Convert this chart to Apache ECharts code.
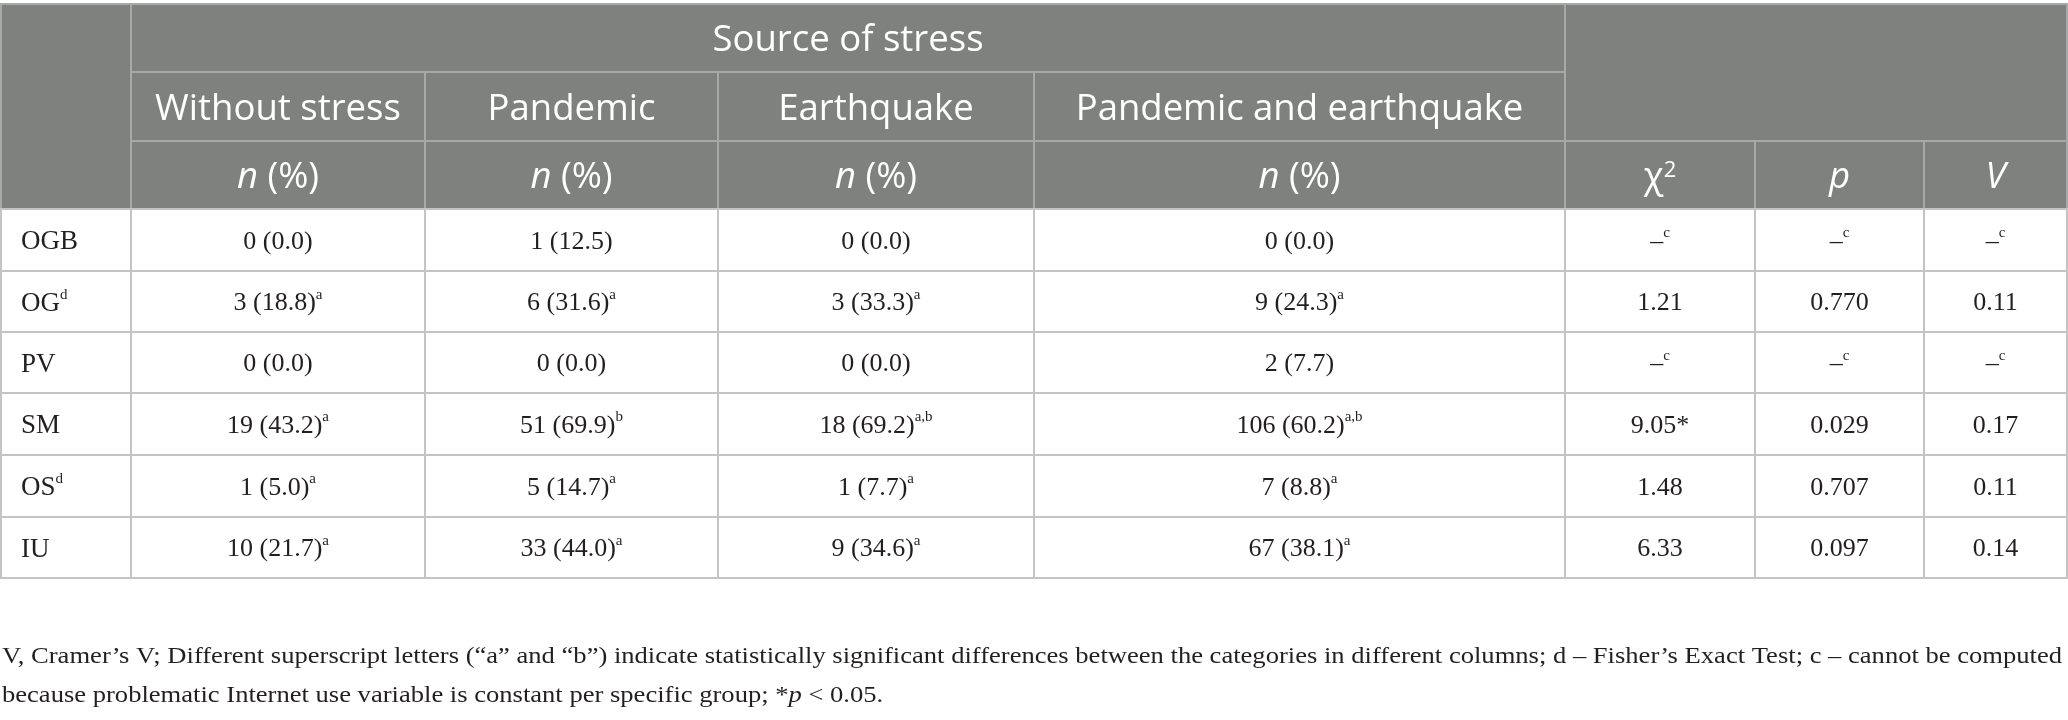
<!DOCTYPE html>
<html><head><meta charset="utf-8">
<script src="https://cdn.jsdelivr.net/npm/echarts@6/dist/echarts.min.js"></script>
<style>html,body{margin:0;padding:0;background:#fff}#c{width:2068px;height:720px}</style>
</head><body><div id="c"></div>
<script>
// ---------- data ----------
const rowLabels = ['OGB', 'OG', 'PV', 'SM', 'OS', 'IU'];
const rowLabelSup = ['', 'd', '', '', 'd', ''];
const groupTitle = 'Source of stress';
const stressGroups = ['Without stress', 'Pandemic', 'Earthquake', 'Pandemic and earthquake'];
const withoutStress = ['0 (0.0)', '3 (18.8)', '0 (0.0)', '19 (43.2)', '1 (5.0)', '10 (21.7)'];
const withoutStressSup = ['', 'a', '', 'a', 'a', 'a'];
const pandemic = ['1 (12.5)', '6 (31.6)', '0 (0.0)', '51 (69.9)', '5 (14.7)', '33 (44.0)'];
const pandemicSup = ['', 'a', '', 'b', 'a', 'a'];
const earthquake = ['0 (0.0)', '3 (33.3)', '0 (0.0)', '18 (69.2)', '1 (7.7)', '9 (34.6)'];
const earthquakeSup = ['', 'a', '', 'a,b', 'a', 'a'];
const pandemicAndEarthquake = ['0 (0.0)', '9 (24.3)', '2 (7.7)', '106 (60.2)', '7 (8.8)', '67 (38.1)'];
const pandemicAndEarthquakeSup = ['', 'a', '', 'a,b', 'a', 'a'];
const chiSquare = ['–', '1.21', '–', '9.05*', '1.48', '6.33'];
const chiSquareSup = ['c', '', 'c', '', '', ''];
const pValues = ['–', '0.770', '–', '0.029', '0.707', '0.097'];
const pValuesSup = ['c', '', 'c', '', '', ''];
const cramersV = ['–', '0.11', '–', '0.17', '0.11', '0.14'];
const cramersVSup = ['c', '', 'c', '', '', ''];
const footnoteLine1 = 'V, Cramer’s V; Different superscript letters (“a” and “b”) indicate statistically significant differences between the categories in different columns; d – Fisher’s Exact Test; c – cannot be computed';
const footnoteLine2 = 'because problematic Internet use variable is constant per specific group; *{i|p} < 0.05.';

// ---------- layout (pixels) ----------
const colEdges = [1, 131, 425, 718, 1034, 1565, 1755, 1924, 2067];
const rowEdges = [4, 72, 141, 209, 271, 332, 393, 455, 517, 578];
const HEAD_BG = '#7f817f', HEAD_LINE = '#a7a9a8', BODY_LINE = '#c4c4c4';
const HEAD_FONT = 'Open Sans', BODY_FONT = 'Liberation Serif';
const HEAD_SIZE = 36.5, BODY_SIZE = 26, LABEL_SIZE = 27, SUP_SIZE = 15;
const TEXT_COLOR = '#231f20';

function withSup(t, s) { return s ? t + '{s|' + s + '}' : t; }

// header cells: [c0, c1, r0, r1, text]
const headerCells = [
  [0, 1, 0, 3, ''],
  [1, 5, 0, 1, groupTitle],
  [5, 8, 0, 2, ''],
];
stressGroups.forEach((g, k) => headerCells.push([k + 1, k + 2, 1, 2, g]));
for (let k = 1; k <= 4; k++) headerCells.push([k, k + 1, 2, 3, '{i|n} (%)']);
headerCells.push([5, 6, 2, 3, 'χ{sup|2}']);
headerCells.push([6, 7, 2, 3, '{i|p}']);
headerCells.push([7, 8, 2, 3, '{i|V}']);

const columns = [
  [rowLabels, rowLabelSup],
  [withoutStress, withoutStressSup],
  [pandemic, pandemicSup],
  [earthquake, earthquakeSup],
  [pandemicAndEarthquake, pandemicAndEarthquakeSup],
  [chiSquare, chiSquareSup],
  [pValues, pValuesSup],
  [cramersV, cramersVSup],
];
const bodyCells = [];
rowLabels.forEach((_, r) => {
  columns.forEach((col, c) => {
    bodyCells.push([c, c + 1, r + 3, r + 4, withSup(col[0][r], col[1][r]), c === 0 ? 'left' : 'center']);
  });
});

function toData(cells) {
  return cells.map(cl => [colEdges[cl[0]], rowEdges[cl[2]], colEdges[cl[1]], rowEdges[cl[3]]]);
}

function makeRender(cells, isHead) {
  return function (params, api) {
    const cl = cells[params.dataIndex];
    const p0 = api.coord([api.value(0), api.value(1)]);
    const p1 = api.coord([api.value(2), api.value(3)]);
    const x = p0[0], y = p0[1], w = p1[0] - p0[0], h = p1[1] - p0[1];
    const align = cl[5] || 'center';
    const tx = align === 'left' ? x + 20 : x + w / 2;
    const fs = align === 'left' ? LABEL_SIZE : BODY_SIZE;
    const children = [{
      type: 'rect',
      shape: { x: x, y: y, width: w, height: h },
      style: { fill: isHead ? HEAD_BG : '#ffffff', stroke: isHead ? HEAD_LINE : BODY_LINE, lineWidth: 2 }
    }];
    if (cl[4]) {
      children.push({
        type: 'text',
        style: isHead ? {
          text: cl[4], x: tx, y: y + h / 2 + 3, align: align, verticalAlign: 'middle',
          fill: '#ffffff', fontFamily: HEAD_FONT, fontSize: HEAD_SIZE,
          rich: {
            i: { fontFamily: HEAD_FONT, fontSize: HEAD_SIZE, fontStyle: 'italic', fill: '#fff' },
            sup: { fontFamily: HEAD_FONT, fontSize: 22, fill: '#fff', verticalAlign: 'top', lineHeight: 22 }
          }
        } : {
          text: cl[4], x: tx, y: y + h / 2 + 2, align: align, verticalAlign: 'middle',
          fill: TEXT_COLOR, fontFamily: BODY_FONT, fontSize: fs, lineHeight: 32,
          rich: {
            s: { fontFamily: BODY_FONT, fontSize: SUP_SIZE, fill: TEXT_COLOR, verticalAlign: 'top', lineHeight: 20 }
          }
        }
      });
    }
    return { type: 'group', children: children };
  };
}

// measure footnote line to justify it across the table width
const ctx = document.createElement('canvas').getContext('2d');
const FOOT_SIZE = 24;
ctx.font = FOOT_SIZE + 'px "' + BODY_FONT + '"';
const footW = ctx.measureText(footnoteLine1).width;
const footScale = (2062 - 2) / footW;

const chart = echarts.init(document.getElementById('c'), null, { renderer: 'canvas' });
chart.setOption({
  animation: false,
  backgroundColor: '#ffffff',
  grid: { left: 0, right: 0, top: 0, bottom: 0 },
  xAxis: { type: 'value', min: 0, max: 2068, show: false },
  yAxis: { type: 'value', min: 0, max: 720, inverse: true, show: false },
  series: [
    { type: 'custom', renderItem: makeRender(headerCells, true), data: toData(headerCells), silent: true },
    { type: 'custom', renderItem: makeRender(bodyCells, false), data: toData(bodyCells), silent: true }
  ],
  graphic: [
    { type: 'text', left: 2, top: 645, scaleX: footScale, originX: 0,
      style: { text: footnoteLine1, fontFamily: BODY_FONT, fontSize: FOOT_SIZE, fill: TEXT_COLOR } },
    { type: 'text', left: 2, top: 684, scaleX: footScale, originX: 0,
      style: { text: footnoteLine2, fontFamily: BODY_FONT, fontSize: FOOT_SIZE, fill: TEXT_COLOR,
        rich: { i: { fontFamily: BODY_FONT, fontSize: FOOT_SIZE, fontStyle: 'italic', fill: TEXT_COLOR } } } }
  ]
});
</script></body></html>
